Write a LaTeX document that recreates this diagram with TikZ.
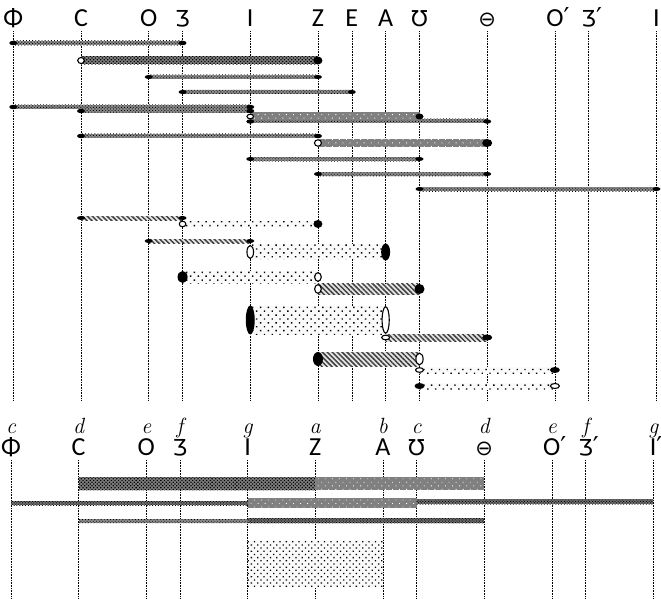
\documentclass[tikz,border=0pt]{standalone}
\usepackage{fontspec}
\usetikzlibrary{patterns,patterns.meta}
\newfontfamily\glyphfont{Carlito}
\newfontfamily\signfont{DejaVu Sans}
\newcommand{\glZh}{{\signfont\fontsize{22}{24}\selectfont Ʒ}}
\newcommand{\glUp}{{\signfont\fontsize{22}{24}\selectfont Ʊ}}
\newcommand{\glTh}{{\signfont\fontsize{21}{24}\selectfont ⊖}}
\newcommand{\prm}{\rlap{\signfont ′}}
% column positions
\newcommand{\topx}[1]{13.3+33.85*#1}
\newcommand{\botx}[1]{11+33.8*#1}
\newcommand{\topband}[5]{\path[#5] ({\topx{#1}},{#3-#4}) rectangle ({\topx{#2}},{#3+#4});}
\newcommand{\botband}[5]{\path[#5] ({\botx{#1}},{#3-#4}) rectangle ({\botx{#2}},{#3+#4});}
\newcommand{\topcap}[5]{\path[#5] ({\topx{#1}},#2) ellipse (#3pt and #4pt);}

\begin{document}
\begin{tikzpicture}[x=1pt,y=-1pt,
    glyph/.style={font=\glyphfont\fontsize{26}{28}\selectfont,anchor=base,inner sep=0pt},
    note/.style={font=\itshape\fontsize{22}{24}\selectfont,anchor=base,inner sep=0pt},
    colline/.style={densely dotted,line width=0.6pt},
    thinbar/.style={preaction={fill=black!45},pattern={Dots[angle=45,distance=2.2pt,radius=0.6pt]},pattern color=black},
    darkthin/.style={preaction={fill=black!55},pattern={Dots[angle=45,distance=2pt,radius=0.7pt]},pattern color=black},
    darkbar/.style={preaction={fill=black!50},pattern={Dots[angle=45,distance=2.5pt,radius=0.9pt]},pattern color=black},
    greybar/.style={preaction={fill=black!50},pattern={Dots[angle=45,distance=5pt,radius=0.6pt]},pattern color=white},
    hatchbar/.style={preaction={fill=gray!20},pattern={Lines[angle=-45,distance=3.5pt,line width=1.5pt]},pattern color=black!75},
    dotbar/.style={preaction={fill=gray!4},pattern={Dots[angle=45,distance=5.5pt,radius=1pt]},pattern color=black},
    finedots/.style={preaction={fill=gray!4},pattern={Dots[angle=45,distance=4.5pt,radius=0.9pt]},pattern color=black},
    fullcap/.style={fill=black},
    opencap/.style={draw=black,line width=1.1pt,fill=white}]
  \useasboundingbox (0,0) rectangle (661,599);
  \clip (0,0) rectangle (661,599);

  % upper scale
  \foreach \k/\g/\n in {0/Φ/phi,2/C/c,4/O/o,5/\glZh/zh,7/I/i,9/Z/z,10/E/e,11/A/a,
      12/\glUp/u,14/\glTh/th,16/O\prm/oo,17/\glZh\prm/zzh,19/I/ii}{
    \node[glyph] (t\n) at ({\topx{\k}},26.5) {\g};
    \draw[colline] ([yshift=-5pt]t\n.base) -- ++(0,369);
  }

  % lower scale
  \foreach \k/\g/\l/\n in {0/Φ/c/phi,2/C/d/c,4/O/e/o,5/\glZh/f/zh,7/I/g/i,9/Z/a/z,11/A/b/a,
      12/\glUp/c/u,14/\glTh/d/th,16/O\prm/e/oo,17/\glZh\prm/f/zzh,19/I\prm/g/ii}{
    \node[glyph] (b\n) at ({\botx{\k}},455) {\g};
    \node[note] (n\n) at ({\botx{\k}},433) {\l};
    \draw[colline] ([yshift=-5pt]b\n.base) -- ++(0,145);
  }

  % plain rows
  \topband{0}{5}{43}{2.2}{thinbar}
  \topcap{0}{43}{4}{2.2}{fullcap} \topcap{5}{43}{4}{2.2}{fullcap}
  \topband{2}{9}{60.5}{4}{darkbar}
  \topcap{2}{60.5}{3.3}{3}{opencap} \topcap{9}{60.5}{4.5}{4}{fullcap}
  \topband{4}{9}{77}{2}{thinbar}
  \topcap{4}{77}{4}{2}{fullcap} \topcap{9}{77}{4}{2}{fullcap}
  \topband{5}{10}{92}{2}{thinbar}
  \topcap{5}{92}{4}{2}{fullcap} \topcap{10}{92}{4}{2}{fullcap}
  \topband{0}{7}{107}{2}{thinbar}
  \topband{2}{7}{111}{2}{thinbar}
  \topband{7}{14}{121}{2}{thinbar}
  \topband{7}{12}{116.5}{4}{greybar}
  \topcap{0}{107}{4}{2.2}{fullcap} \topcap{2}{111}{4}{2.2}{fullcap}
  \topcap{7}{107}{4}{2.2}{fullcap} \topcap{7}{111}{4}{2.2}{fullcap}
  \topcap{7}{116.5}{3.3}{2.3}{opencap} \topcap{7}{121.5}{4}{2.2}{fullcap}
  \topcap{12}{116.5}{4}{3}{fullcap} \topcap{14}{121.5}{4}{2.2}{fullcap}
  \topband{2}{9}{136}{2}{thinbar}
  \topcap{2}{136}{4}{2.2}{fullcap} \topcap{9}{136}{4}{2.2}{fullcap}
  \topband{9}{14}{143}{4}{greybar}
  \topcap{9}{143}{3.5}{3.2}{opencap} \topcap{14}{143}{5}{4}{fullcap}
  \topband{7}{12}{159}{2}{thinbar}
  \topcap{7}{159}{4}{2}{fullcap} \topcap{12}{159}{4}{2}{fullcap}
  \topband{9}{14}{174}{2}{thinbar}
  \topcap{9}{174}{4}{2}{fullcap} \topcap{14}{174}{4}{2}{fullcap}
  \topband{12}{19}{189}{2}{thinbar}
  \topcap{12}{189}{4}{2}{fullcap} \topcap{19}{189}{4}{2}{fullcap}

  % hatched and dotted rows
  \topband{2}{5}{218}{2}{hatchbar}
  \topband{5}{9}{224}{3}{dotbar}
  \topcap{2}{218}{4}{2}{fullcap} \topcap{5}{218}{4}{2}{fullcap}
  \topcap{5}{224}{3.3}{2.8}{opencap} \topcap{9}{224}{4.5}{4}{fullcap}
  \topband{4}{7}{241}{2}{hatchbar}
  \topband{7}{11}{251.5}{7.5}{dotbar}
  \topcap{4}{241}{4}{2}{fullcap} \topcap{7}{241}{4}{2}{fullcap}
  \topcap{7}{252}{3.3}{6.5}{opencap} \topcap{11}{252}{4.5}{8.5}{fullcap}
  \topband{5}{9}{277}{6}{dotbar}
  \topband{9}{12}{289}{5.5}{hatchbar}
  \topcap{5}{277}{5}{6}{fullcap} \topcap{9}{277}{3.3}{4.3}{opencap}
  \topcap{9}{289}{3.3}{4.3}{opencap} \topcap{12}{289}{5}{5}{fullcap}
  \topband{7}{11}{320}{14.5}{dotbar}
  \topband{11}{14}{337.5}{3.5}{hatchbar}
  \topcap{7}{320}{4.5}{14.5}{fullcap} \topcap{11}{320}{3.6}{13.2}{opencap}
  \topcap{11}{337.5}{4}{2.3}{opencap} \topcap{14}{337.5}{5}{3}{fullcap}
  \topband{9}{12}{359}{7}{hatchbar}
  \topband{12}{16}{370}{3}{dotbar}
  \topcap{9}{359}{5}{7}{fullcap} \topcap{12}{359}{3.6}{5.8}{opencap}
  \topcap{12}{370}{4}{2.3}{opencap} \topcap{16}{370}{5}{3}{fullcap}
  \topband{12}{16}{386}{3}{dotbar}
  \topcap{12}{386}{5}{3}{fullcap} \topcap{16}{386}{4.5}{2.5}{opencap}

  % summary bands
  \botband{2}{9}{483.5}{6.5}{darkbar}
  \botband{9}{14}{483.5}{6.5}{greybar}
  \botband{0}{7}{503}{2}{darkthin}
  \botband{7}{12}{503}{5}{greybar}
  \botband{12}{19}{501.5}{2.5}{darkthin}
  \botband{2}{7}{521}{2}{thinbar}
  \botband{7}{14}{520.5}{2.5}{darkthin}
  \botband{7}{11}{563.5}{23.5}{finedots}
\end{tikzpicture}
\end{document}
